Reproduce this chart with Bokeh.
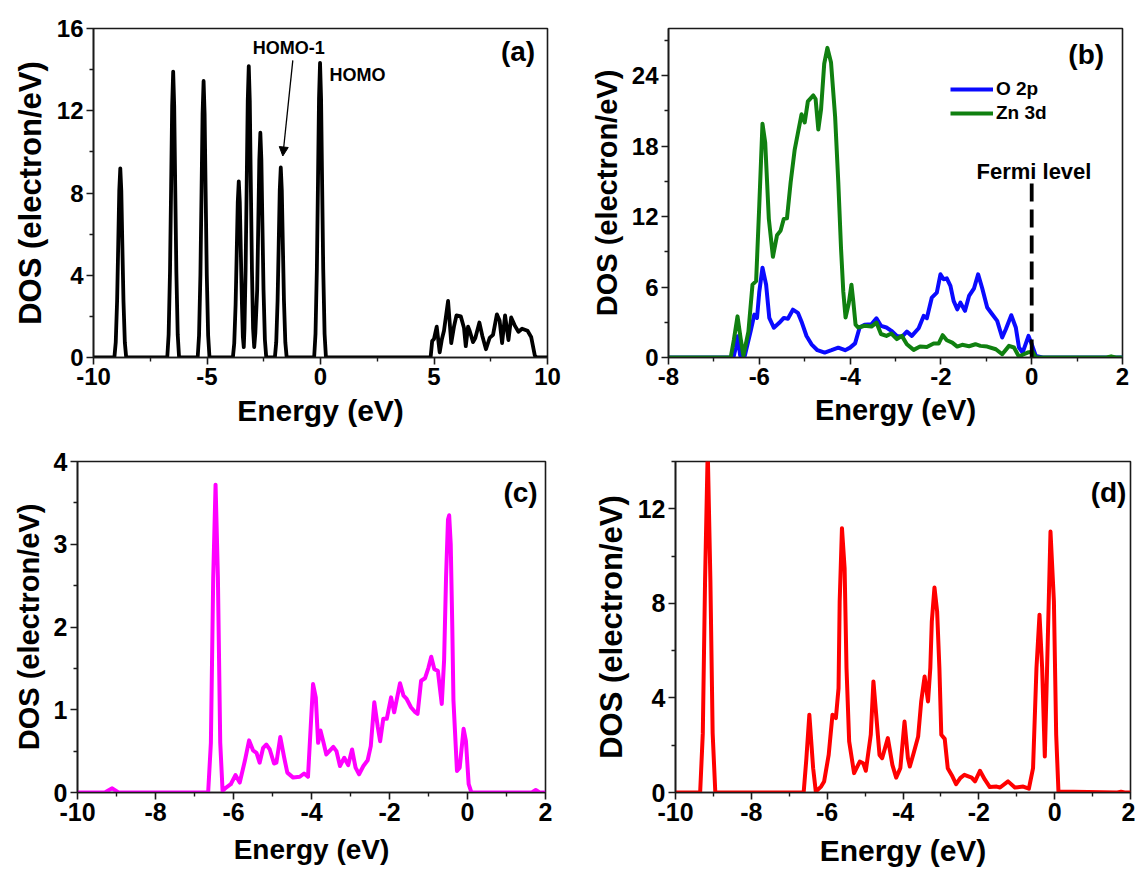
from bokeh.plotting import figure
from bokeh.layouts import column, row
from bokeh.models import FixedTicker, Label, Legend, LegendItem, Arrow, NormalHead, Range1d
from bokeh.embed import file_html
from bokeh.resources import INLINE

FONT = "Liberation Sans"

# ---------------- data ----------------
# (a) total DOS
a_energy = [-10.0,
            -9.08, -9.02, -8.96, -8.91, -8.865, -8.82, -8.775, -8.73, -8.68, -8.62, -8.56,
            -6.75, -6.69, -6.63, -6.58, -6.535, -6.49, -6.445, -6.40, -6.35, -6.29, -6.23,
            -5.41, -5.35, -5.29, -5.24, -5.195, -5.15, -5.105, -5.06, -5.01, -4.95, -4.89,
            -3.86, -3.80, -3.74, -3.69, -3.645, -3.60, -3.555, -3.51, -3.46, -3.42, -3.38,
            -3.35, -3.30, -3.25, -3.205, -3.16, -3.115, -3.07, -3.02, -2.97, -2.92,
            -2.87, -2.79, -2.74, -2.695, -2.65, -2.605, -2.56, -2.51, -2.45, -2.39,
            -2.01, -1.95, -1.89, -1.84, -1.795, -1.75, -1.705, -1.66, -1.61, -1.55, -1.49,
            -0.28, -0.22, -0.16, -0.11, -0.065, -0.02, 0.025, 0.07, 0.12, 0.18, 0.24,
            4.85, 4.92, 5.0, 5.12, 5.25, 5.35, 5.44, 5.62, 5.76, 5.88, 5.99,
            6.18, 6.32, 6.40, 6.50, 6.57, 6.72, 6.82, 7.0, 7.13, 7.29, 7.45,
            7.6, 7.77, 7.89, 8.0, 8.13, 8.28, 8.40, 8.56, 8.72, 8.88, 9.12,
            9.28, 9.44, 9.52, 10.0]
a_dos = [0.0,
         0.0, 0.74, 2.76, 5.52, 8.1, 9.2, 8.1, 5.52, 2.76, 0.74, 0.0,
         0.0, 1.11, 4.17, 8.34, 12.23, 13.9, 12.23, 8.34, 4.17, 1.11, 0.0,
         0.0, 1.08, 4.04, 8.07, 11.84, 13.45, 11.84, 8.07, 4.04, 1.08, 0.0,
         0.0, 0.69, 2.57, 5.14, 7.54, 8.57, 7.54, 5.14, 2.57, 1.0, 0.5,
         1.4, 4.25, 8.5, 12.47, 14.17, 12.47, 8.5, 4.25, 1.4, 0.5,
         1.2, 3.28, 6.56, 9.62, 10.93, 9.62, 6.56, 3.28, 0.87, 0.0,
         0.0, 0.74, 2.77, 5.54, 8.13, 9.24, 8.13, 5.54, 2.77, 0.74, 0.0,
         0.0, 1.15, 4.3, 8.6, 12.61, 14.33, 12.61, 8.6, 4.3, 1.15, 0.0,
         0.0, 0.8, 0.9, 1.5, 0.25, 0.9, 1.3, 2.75, 0.7, 1.5, 2.05,
         2.0, 1.45, 0.55, 1.5, 1.3, 0.75, 0.95, 1.7, 1.05, 0.4, 0.95,
         1.1, 2.1, 1.8, 0.7, 2.05, 0.85, 1.95, 1.55, 1.25, 1.4, 1.3,
         1.0, 0.1, 0.0, 0.0]

# (b) partial DOS
b_o2p_energy = [-8.0, -6.57, -6.52, -6.48, -6.42, -6.32, -6.19, -6.11, -6.05, -6.0,
                -5.93, -5.85, -5.78, -5.68, -5.56, -5.46, -5.37, -5.26, -5.15, -5.06,
                -4.96, -4.85, -4.72, -4.56, -4.41, -4.26, -4.11, -4.0, -3.89, -3.79,
                -3.68, -3.53, -3.42, -3.32, -3.2, -3.09, -2.97, -2.86, -2.75, -2.64,
                -2.49, -2.38, -2.31, -2.2, -2.09, -2.01, -1.94, -1.87, -1.79, -1.72,
                -1.64, -1.57, -1.47, -1.38, -1.27, -1.18, -1.09, -0.98, -0.87, -0.76,
                -0.65, -0.57, -0.45, -0.35, -0.28, -0.2, -0.07, 0.0, 0.09, 0.24, 2.0]
b_o2p_dos = [0.0, 0.0, 0.8, 1.8, 0.15, 0.15, 2.25, 3.65, 3.37, 5.6,
             7.64, 6.2, 3.37, 2.53, 2.95, 3.37, 3.3, 4.07, 3.8, 2.95,
             1.83, 1.12, 0.62, 0.42, 0.62, 0.84, 0.62, 0.84, 1.2, 2.55,
             2.78, 2.83, 3.34, 2.69, 2.55, 2.27, 1.84, 1.76, 2.2, 1.84,
             2.49, 3.54, 3.34, 5.1, 5.52, 7.08, 6.66, 6.74, 6.09, 4.82,
             4.1, 4.67, 3.97, 5.24, 5.89, 7.08, 5.89, 4.25, 3.68, 3.12,
             1.7, 2.41, 3.6, 2.55, 0.85, 0.42, 1.84, 1.13, 0.14, 0.0, 0.0]

b_zn3d_energy = [-8.0, -6.63, -6.56, -6.48, -6.41, -6.35, -6.24, -6.15, -6.07, -6.0,
                 -5.93, -5.87, -5.79, -5.70, -5.61, -5.53, -5.46, -5.39, -5.31, -5.22,
                 -5.15, -5.07, -5.0, -4.93, -4.81, -4.76, -4.70, -4.64, -4.57, -4.50,
                 -4.42, -4.33, -4.26, -4.20, -4.15, -4.10, -4.03, -3.97, -3.93, -3.88,
                 -3.82, -3.68, -3.53, -3.42, -3.32, -3.20, -3.09, -2.97, -2.86, -2.75,
                 -2.60, -2.46, -2.31, -2.16, -2.05, -1.96, -1.87, -1.75, -1.64, -1.53,
                 -1.38, -1.24, -1.13, -0.98, -0.79, -0.65, -0.5, -0.39, -0.28, -0.2,
                 -0.09, 0.02, 0.09, 1.65, 1.75, 1.85, 2.0]
b_zn3d_dos = [0.0, 0.0, 1.5, 3.5, 1.6, 0.15, 2.2, 6.2, 6.5, 13.0,
              19.9, 18.3, 11.8, 8.57, 10.4, 10.8, 11.8, 11.85, 14.9, 17.7,
              19.1, 20.7, 20.0, 21.8, 22.3, 22.0, 19.4, 21.1, 25.0, 26.35,
              25.1, 20.5, 14.9, 9.3, 5.6, 3.4, 4.6, 6.2, 4.8, 2.8,
              2.55, 2.7, 2.63, 2.97, 2.0, 1.84, 2.04, 1.56, 1.84, 1.13,
              0.65, 0.93, 0.9, 1.19, 1.19, 1.9, 1.47, 1.27, 0.93, 1.08,
              0.96, 1.13, 0.99, 0.93, 0.7, 0.28, 0.99, 0.85, 0.06, 0.23,
              0.42, 0.5, 0.0, 0.0, 0.1, 0.0, 0.0]

fermi_energy = [0.0, 0.0]
fermi_dos = [0.0, 14.8]

# (c)
c_energy = [-10.0, -9.3, -9.11, -8.95, -6.65, -6.58, -6.52, -6.46, -6.40, -6.34,
            -6.28, -6.19, -6.07, -5.95, -5.84, -5.71, -5.60, -5.50, -5.41, -5.33,
            -5.24, -5.16, -5.07, -4.96, -4.90, -4.80, -4.70, -4.62, -4.47, -4.30,
            -4.19, -4.09, -3.96, -3.89, -3.83, -3.77, -3.70, -3.62, -3.44, -3.36,
            -3.27, -3.16, -3.06, -2.96, -2.87, -2.78, -2.67, -2.56, -2.48, -2.39,
            -2.30, -2.24, -2.16, -2.07, -1.96, -1.88, -1.82, -1.73, -1.64, -1.56,
            -1.45, -1.34, -1.28, -1.19, -1.09, -1.0, -0.93, -0.85, -0.76, -0.66,
            -0.60, -0.55, -0.50, -0.47, -0.43, -0.39, -0.36, -0.27, -0.20, -0.10,
            -0.04, 0.03, 0.10, 1.65, 1.75, 1.85, 2.0]
c_dos = [0.0, 0.0, 0.05, 0.0, 0.0, 0.6, 2.6, 3.72, 2.6, 0.6,
         0.02, 0.06, 0.10, 0.21, 0.12, 0.38, 0.63, 0.51, 0.48, 0.36,
         0.54, 0.58, 0.52, 0.35, 0.36, 0.67, 0.42, 0.24, 0.18, 0.19,
         0.23, 0.19, 1.31, 1.15, 0.6, 0.75, 0.62, 0.46, 0.55, 0.5,
         0.32, 0.42, 0.33, 0.52, 0.30, 0.22, 0.32, 0.39, 0.56, 1.09,
         0.79, 0.62, 0.89, 0.89, 1.15, 0.97, 1.11, 1.32, 1.17, 1.13,
         1.03, 0.97, 0.95, 1.35, 1.38, 1.51, 1.64, 1.49, 1.47, 1.07,
         1.6, 2.6, 3.3, 3.35, 3.0, 2.0, 1.11, 0.26, 0.30, 0.77,
         0.62, 0.10, 0.0, 0.0, 0.03, 0.0, 0.0]

# (d)
d_energy = [-10.0, -9.35, -9.28, -9.22, -9.15, -9.08, -9.02, -8.95,
            -6.62, -6.55, -6.47, -6.37, -6.30, -6.16, -6.08, -5.96, -5.86, -5.77,
            -5.70, -5.67, -5.61, -5.54, -5.49, -5.42, -5.29, -5.14, -5.05, -4.98,
            -4.85, -4.78, -4.70, -4.62, -4.55, -4.40, -4.28, -4.18, -4.07, -3.96,
            -3.87, -3.82, -3.72, -3.60, -3.52, -3.43, -3.34, -3.28, -3.24, -3.17,
            -3.10, -3.04, -2.99, -2.90, -2.82, -2.71, -2.60, -2.49, -2.38, -2.19,
            -2.10, -1.97, -1.84, -1.71, -1.53, -1.44, -1.23, -1.05, -0.83, -0.68,
            -0.57, -0.48, -0.40, -0.33, -0.26, -0.20, -0.11, -0.02, 0.04, 0.10,
            1.65, 1.75, 1.85, 2.0]
d_dos = [0.0, 0.0, 2.5, 9.0, 14.5, 9.0, 2.5, 0.0,
         0.0, 1.4, 3.29, 1.03, 0.04, 0.25, 0.47, 1.59, 3.29, 3.15,
         4.41, 8.08, 11.18, 9.49, 5.26, 2.16, 0.82, 1.31, 1.24, 0.92,
         2.44, 4.70, 3.15, 1.59, 1.45, 2.30, 1.17, 0.63, 1.03, 3.0,
         1.45, 1.10, 1.66, 2.37, 3.85, 4.91, 3.85, 5.26, 7.24, 8.67,
         7.66, 5.26, 2.44, 2.27, 1.03, 0.72, 0.35, 0.61, 0.75, 0.63,
         0.47, 0.92, 0.54, 0.23, 0.25, 0.21, 0.47, 0.21, 0.25, 0.16,
         1.03, 5.26, 7.52, 5.26, 1.52, 5.26, 11.04, 8.08, 2.44, 0.04,
         0.0, 0.03, 0.0, 0.0]

# ticks
a_xticks, a_xminor = [-10, -5, 0, 5, 10], [-7.5, -2.5, 2.5, 7.5]
a_yticks, a_yminor = [0, 4, 8, 12, 16], [2, 6, 10, 14]
b_xticks, b_xminor = [-8, -6, -4, -2, 0, 2], [-7, -5, -3, -1, 1]
b_yticks, b_yminor = [0, 6, 12, 18, 24], [3, 9, 15, 21, 27]
cd_xticks, cd_xminor = [-10, -8, -6, -4, -2, 0, 2], [-9, -7, -5, -3, -1, 1]
c_yticks, c_yminor = [0, 1, 2, 3, 4], [0.5, 1.5, 2.5, 3.5]
d_yticks, d_yminor = [0, 4, 8, 12], [2, 6, 10, 14]

XLABEL = "Energy (eV)"
YLABEL = "DOS (electron/eV)"


def style_axis(ax, ticks, minor, tick_fs, lab_fs, lab_standoff):
    ax.ticker = FixedTicker(ticks=ticks, minor_ticks=minor)
    ax.major_label_overrides = {t: str(t) for t in ticks}
    ax.axis_line_color = "#1a1a1a"
    ax.axis_line_width = 1.6
    ax.major_tick_line_color = "#1a1a1a"
    ax.major_tick_line_width = 1.6
    ax.major_tick_out = 7
    ax.major_tick_in = 0
    ax.minor_tick_line_color = "#1a1a1a"
    ax.minor_tick_line_width = 1.4
    ax.minor_tick_out = 4
    ax.minor_tick_in = 0
    ax.major_label_text_font = FONT
    ax.major_label_text_font_style = "bold"
    ax.major_label_text_font_size = tick_fs
    ax.major_label_text_color = "black"
    ax.major_label_standoff = 3
    ax.axis_label_text_font = FONT
    ax.axis_label_text_font_style = "bold"
    ax.axis_label_text_font_size = lab_fs
    ax.axis_label_text_color = "black"
    ax.axis_label_standoff = lab_standoff


def make_fig(w, h, xr, yr, borders, xt, xm, yt, ym, tick_fs, xlab_fs, ylab_fs, xstand):
    bl, br, bt, bb = borders
    p = figure(width=w, height=h, x_range=Range1d(*xr), y_range=Range1d(*yr),
               output_backend="svg", toolbar_location=None,
               min_border_left=bl, min_border_right=br, min_border_top=bt, min_border_bottom=bb,
               x_axis_label=XLABEL, y_axis_label=YLABEL)
    p.xgrid.visible = False
    p.ygrid.visible = False
    p.outline_line_color = "#1a1a1a"
    p.outline_line_width = 1.6
    p.outline_line_alpha = 1.0
    p.background_fill_color = "white"
    p.border_fill_color = "white"
    style_axis(p.xaxis[0], xt, xm, tick_fs, xlab_fs, xstand)
    style_axis(p.yaxis[0], yt, ym, tick_fs, ylab_fs, 6)
    return p


def text_label(p, x, y, text, size, align="center"):
    p.add_layout(Label(x=x, y=y, text=text, text_font=FONT, text_font_style="bold",
                       text_font_size=size, text_align=align, text_baseline="middle",
                       text_color="black"))


# (a)
pa = make_fig(572, 440, (-10, 10), (0, 16), (93, 25, 28, 83),
              a_xticks, a_xminor, a_yticks, a_yminor, "24px", "30px", "31px", 6)
pa.line(a_energy, a_dos, color="black", line_width=3.8, line_join="round")
text_label(pa, 8.7, 14.9, "(a)", "28px")
text_label(pa, -1.4, 15.05, "HOMO-1", "18px")
text_label(pa, 0.4, 13.75, "HOMO", "18px", align="left")
pa.add_layout(Arrow(end=NormalHead(size=9, fill_color="black", line_color="black"),
                    x_start=-1.22, y_start=14.45, x_end=-1.66, y_end=9.8,
                    line_color="black", line_width=1.3))

# (b)
pb = make_fig(563, 440, (-8, 2), (0, 28), (96, 13, 28, 83),
              b_xticks, b_xminor, b_yticks, b_yminor, "24px", "29px", "29px", 6)
r_o = pb.line(b_o2p_energy, b_o2p_dos, color="#0a0aff", line_width=4, line_join="round")
r_zn = pb.line(b_zn3d_energy, b_zn3d_dos, color="#108010", line_width=4, line_join="round")
pb.line(fermi_energy, fermi_dos, color="black", line_width=3.8, line_dash="18 8")
text_label(pb, 0.05, 15.8, "Fermi level", "22px")
text_label(pb, 1.2, 25.8, "(b)", "28px")
legend = Legend(items=[LegendItem(label="O 2p", renderers=[r_o]),
                       LegendItem(label="Zn 3d", renderers=[r_zn])],
                location=(282, 233), glyph_width=43, glyph_height=20, label_height=20,
                label_standoff=3, spacing=2, padding=0, margin=0,
                border_line_alpha=0, background_fill_alpha=0,
                label_text_font=FONT, label_text_font_style="bold",
                label_text_font_size="19px", label_text_color="black")
pb.add_layout(legend)

# (c)
pc = make_fig(572, 429, (-10, 2), (0, 4), (77, 27, 21, 77),
              cd_xticks, cd_xminor, c_yticks, c_yminor, "25px", "28px", "29px", 10)
pc.line(c_energy, c_dos, color="#ff00ff", line_width=4, line_join="round")
text_label(pc, 1.36, 3.63, "(c)", "28px")

# (d)
pd_ = make_fig(563, 429, (-10, 2), (0, 14), (103, 5, 21, 77),
               cd_xticks, cd_xminor, d_yticks, d_yminor, "25px", "30px", "31px", 10)
pd_.line(d_energy, d_dos, color="#ff0000", line_width=4, line_join="round")
text_label(pd_, 1.42, 12.7, "(d)", "28px")

layout = column(row(pa, pb), row(pc, pd_))
open("out.html", "w").write(file_html(layout, INLINE))
